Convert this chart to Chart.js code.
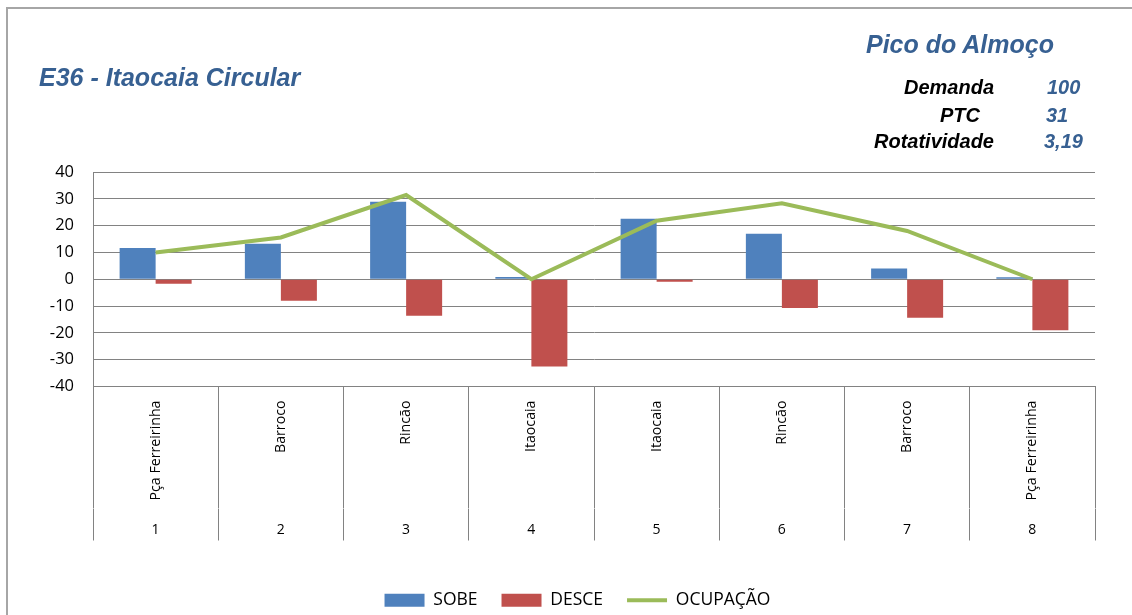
<!DOCTYPE html>
<html>
<head>
    <title>E36 - Itaocaia Circular</title>
    <script src="https://cdn.jsdelivr.net/npm/chart.js@4"></script>
    <style>
        body {
            margin: 0;
            overflow: hidden;
            background: #fff;
        }

        #frame {
            position: absolute;
            left: 6px;
            top: 7px;
            width: 1200px;
            height: 700px;
            border-left: 2px solid #a6a6a6;
            border-top: 2px solid #a6a6a6;
        }

        .txt {
            position: absolute;
            font-family: 'Liberation Sans', Arial, sans-serif;
            font-weight: bold;
            font-style: italic;
            line-height: 1;
            white-space: nowrap;
        }

        .blue { color: #376092; }
        .big { font-size: 25px; }
        .med { font-size: 20px; color: #000; }
        .val { font-size: 20px; }
    </style>
</head>
<body>
<div id="frame"></div>
<canvas id="chart" width="1132" height="615" style="position:absolute;left:0;top:0;"></canvas>

<div class="txt big blue" style="left:39px; top:65px;">E36 - Itaocaia Circular</div>
<div class="txt big blue" style="left:866px; top:32px;">Pico do Almoço</div>

<div class="txt med" style="right:138px; top:77px;">Demanda</div>
<div class="txt med" style="right:152px; top:105px;">PTC</div>
<div class="txt med" style="right:138px; top:131px;">Rotatividade</div>

<div class="txt val blue" style="left:1047px; top:77px;">100</div>
<div class="txt val blue" style="left:1046px; top:105px;">31</div>
<div class="txt val blue" style="left:1044px; top:131px;">3,19</div>

<script>
    // Stops along the route (top level of the category axis) and their order number
    const stops = ['Pça Ferreirinha', 'Barroco', 'Rincão', 'Itaocaia', 'Itaocaia', 'Rincão', 'Barroco', 'Pça Ferreirinha'];
    const stopNumbers = ['1', '2', '3', '4', '5', '6', '7', '8'];

    // Values
    const sobe = [11.7, 13.2, 28.9, 0.8, 22.6, 17.0, 4.0, 0.7];
    const desce = [-1.7, -8.0, -13.6, -32.5, -0.9, -10.7, -14.4, -19.0];
    const ocupacao = [10.0, 15.6, 31.4, 0, 21.8, 28.3, 18.0, 0];

    const yTicks = [-40, -30, -20, -10, 0, 10, 20, 30, 40];

    const GRID = '#828282';
    const LABEL_FONT = "'Open Sans', sans-serif";

    // The original legend sits a little right of the page centre
    const legendShift = {
        id: 'legendShift',
        afterLayout(chart) {
            if (chart.legend) {
                chart.legend.left += 30;
                chart.legend.right += 30;
            }
        }
    };

    const ctx = document.getElementById('chart').getContext('2d');
    new Chart(ctx, {
        type: 'bar',
        data: {
            labels: stops,
            datasets: [
                {
                    type: 'line',
                    label: 'OCUPAÇÃO',
                    data: ocupacao,
                    borderColor: '#9BBB59',
                    backgroundColor: '#9BBB59',
                    borderWidth: 4,
                    pointRadius: 0,
                    pointStyle: 'line',
                    tension: 0,
                    order: 0,
                },
                {
                    label: 'SOBE',
                    data: sobe,
                    backgroundColor: '#4F81BD',
                    borderWidth: 0,
                    pointStyle: 'rect',
                    order: 1,
                },
                {
                    label: 'DESCE',
                    data: desce,
                    backgroundColor: '#C0504D',
                    borderWidth: 0,
                    pointStyle: 'rect',
                    order: 1,
                },
            ]
        },
        plugins: [legendShift],
        options: {
            responsive: false,
            animation: false,
            categoryPercentage: 0.575,
            barPercentage: 1,
            layout: {
                padding: { top: 172, left: 0, right: 37, bottom: -4 }
            },
            plugins: {
                title: { display: false },
                tooltip: { enabled: false },
                legend: {
                    position: 'bottom',
                    labels: {
                        usePointStyle: true,
                        pointStyleWidth: 40,
                        boxHeight: 13,
                        padding: 24,
                        color: '#000',
                        font: { family: LABEL_FONT, size: 17.5 },
                        // keep the bar entries before the line like the original
                        sort: (a, b) => {
                            const rank = { 'SOBE': 0, 'DESCE': 1, 'OCUPAÇÃO': 2 };
                            return rank[a.text] - rank[b.text];
                        }
                    }
                }
            },
            scales: {
                y: {
                    min: -40,
                    max: 40,
                    afterFit: (scale) => { scale.width = 93; },
                    afterBuildTicks: (scale) => {
                        scale.ticks = yTicks.map(v => ({ value: v }));
                    },
                    grid: {
                        color: GRID,
                        drawTicks: false,
                    },
                    border: { display: true, color: GRID },
                    ticks: {
                        padding: 19,
                        color: '#000',
                        font: { family: LABEL_FONT, size: 16.5 },
                    }
                },
                x: {
                    position: 'bottom',
                    weight: 1,
                    afterFit: (scale) => { scale.height = 122; },
                    grid: {
                        offset: true,
                        drawOnChartArea: false,
                        drawTicks: true,
                        tickLength: 122,
                        color: GRID,
                    },
                    border: { display: true, color: GRID },
                    ticks: {
                        autoSkip: false,
                        minRotation: 90,
                        maxRotation: 90,
                        padding: -108,
                        color: '#000',
                        font: { family: LABEL_FONT, size: 14.2 },
                    }
                },
                x2: {
                    type: 'category',
                    position: 'bottom',
                    weight: 2,
                    labels: stopNumbers,
                    offset: true,
                    afterFit: (scale) => { scale.height = 59; },
                    grid: {
                        offset: true,
                        drawOnChartArea: false,
                        drawTicks: true,
                        tickLength: 32,
                        color: GRID,
                    },
                    border: { display: false },
                    ticks: {
                        autoSkip: false,
                        maxRotation: 0,
                        padding: -19,
                        color: '#000',
                        font: { family: LABEL_FONT, size: 14 },
                    }
                }
            }
        }
    });
</script>
</body>
</html>
